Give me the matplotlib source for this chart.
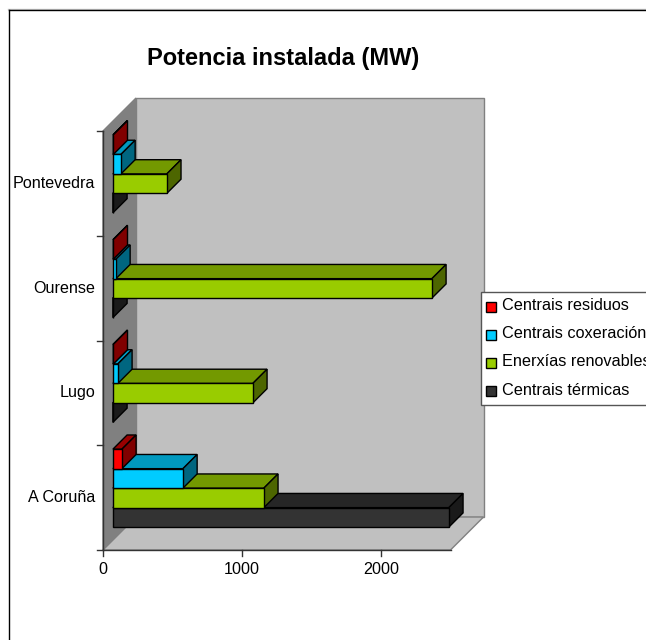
import matplotlib
matplotlib.use("Agg")
import matplotlib.pyplot as plt
from matplotlib.lines import Line2D
from matplotlib.patches import Polygon, Rectangle

plt.rcParams['font.family'] = ['Liberation Sans', 'DejaVu Sans']

provinces = ['A Coruña', 'Lugo', 'Ourense', 'Pontevedra']
series = ['Centrais térmicas', 'Enerxías renovables', 'Centrais coxeración', 'Centrais residuos']
termicas = [2417, 0, 0, 0]
renovables = [1086, 1007, 2295, 388]
coxeracion = [504, 36, 22, 58]
residuos = [65, 3, 3, 3]
values = [termicas, renovables, coxeracion, residuos]
xticks = [0, 1000, 2000]

face = ['#333333', '#99CC00', '#00CCFF', '#FF0000']
top = ['#262626', '#739900', '#0099BF', '#990000']
side = ['#1A1A1A', '#4D6600', '#006680', '#800000']

W, H = 646, 640
fig = plt.figure(figsize=(W/100, H/100), dpi=100)
fig.patch.set_facecolor('white')

# axes spans the full canvas; data units map to pixels via limits
PX = 0.139           # px per MW
PY = 104.75          # px per category
X0, Y0 = 103, 550    # front-left-bottom corner, pixels from top-left
DEPTH = 33           # oblique depth, px
XMAX = 2500
ax = fig.add_axes([0, 0, 1, 1])
ax.set_xlim(-X0/PX, (W-X0)/PX)
ax.set_ylim(-(H-Y0)/PY, Y0/PY)
ax.axis('off')

def P(v, c, d=0.0):
    return (v + d*DEPTH/PX, c + d*DEPTH/PY)

def poly(pts, fc, ec='none', lw=0.0, z=1):
    ax.add_patch(Polygon(pts, closed=True, fc=fc, ec=ec, lw=lw, zorder=z, joinstyle='miter'))

ncat = len(provinces)
# walls
poly([P(0,0), P(0,0,1), P(0,ncat,1), P(0,ncat)], '#808080', '#808080', 1, 1)
poly([P(0,0,1), P(XMAX,0,1), P(XMAX,ncat,1), P(0,ncat,1)], '#C0C0C0', '#808080', 1, 1)
poly([P(0,0), P(XMAX,0), P(XMAX,0,1), P(0,0,1)], '#C0C0C0', '#808080', 1, 1)

# bars
BAR = 0.186
GAP = 0.124
D0, D1 = 0.30, 0.73
z = 5
for ci in range(ncat):
    for si in range(len(series)):
        v = values[si][ci]
        y0 = ci + GAP + si*BAR
        y1 = y0 + BAR
        kw = dict(ec='black', lw=1.0)
        z += 1
        poly([P(0,y1,D0), P(v,y1,D0), P(v,y1,D1), P(0,y1,D1)], top[si], z=z, **kw)
        poly([P(v,y0,D0), P(v,y1,D0), P(v,y1,D1), P(v,y0,D1)], side[si], z=z, **kw)
        poly([P(0,y0,D0), P(v,y0,D0), P(v,y1,D0), P(0,y1,D0)], face[si], z=z, **kw)

# axes lines and ticks
ax.plot([0, XMAX], [0, 0], color='#333333', lw=1, zorder=3)
ax.plot([0, 0], [0, ncat], color='#333333', lw=1, zorder=3)
for t in xticks:
    ax.plot([t, t], [0, -6/PY], color='#333333', lw=1, zorder=3)
    ax.text(t, -20/PY, str(t), ha='center', va='center', fontsize=11.6, color='black')
for c in range(ncat+1):
    ax.plot([0, -6/PX], [c, c], color='#333333', lw=1, zorder=3)
for c, name in enumerate(provinces):
    ax.text(-7.5/PX, c+0.5, name, ha='right', va='center', fontsize=11.6, color='black')

fig.text(283/W, 1-58/H, 'Potencia instalada (MW)', ha='center', va='center',
         fontsize=17, fontweight='bold', color='black')

# chart frame: only top and left edges fall inside the canvas
fig.add_artist(Line2D([8/W, 1], [1-8.5/H]*2, transform=fig.transFigure, color='#C8C8C8', lw=1))
fig.add_artist(Line2D([8.5/W, 1], [1-9.5/H]*2, transform=fig.transFigure, color='black', lw=1))
fig.add_artist(Line2D([8.5/W]*2, [0, 1-9.5/H], transform=fig.transFigure, color='black', lw=1))

# legend drawn as real text and swatches
lx0, ly0, ly1 = 481, 292, 405
fig.add_artist(Rectangle((lx0/W, 1-ly1/H), 300/W, (ly1-ly0)/H, transform=fig.transFigure,
                         fc='white', ec='#555555', lw=1, zorder=20))
rows = [(3, 306), (2, 334), (1, 362), (0, 390.5)]
for si, yy in rows:
    fig.add_artist(Rectangle((486/W, 1-(yy+5.5)/H), 10/W, 10/H, transform=fig.transFigure,
                             fc=face[si], ec='black', lw=1, zorder=21))
    fig.text(502/W, 1-yy/H, series[si], ha='left', va='center', fontsize=11.7,
             color='black', zorder=22)

fig.savefig('out.png', dpi=100)
